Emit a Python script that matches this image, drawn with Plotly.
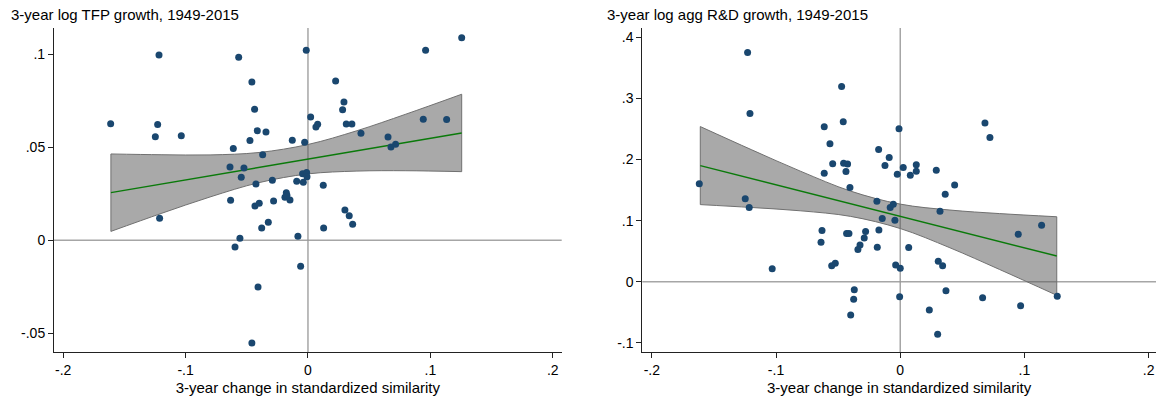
import plotly.graph_objects as go

# ---------------- data: left panel (TFP growth) ----------------
tfp_x = [-0.1612, -0.1217, -0.1228, -0.1247, -0.1035, -0.1212, -0.0566, -0.0458, -0.0436, -0.0414,
         -0.0343, -0.0474, -0.0128, -0.0610, -0.0370, -0.0637, -0.0523, -0.0545, -0.0425, -0.0291,
         -0.0092, -0.0038, -0.0014, 0.0226, 0.0294, 0.0283, 0.0022, 0.0079, 0.0065, 0.0313,
         0.0359, 0.0433, -0.0027, 0.0654, 0.0678, 0.0716, 0.0961, 0.1256, 0.0942, 0.1133,
         -0.0044, -0.0011, -0.0008, 0.0125, -0.0632, -0.0433, -0.0398, -0.0281, -0.0177, -0.0188,
         -0.0147, -0.0172, 0.0302, 0.0337, 0.0365, -0.0324, -0.0378, 0.0128, -0.0556, -0.0082,
         -0.0596, -0.0060, -0.0408, -0.0458]
tfp_y = [0.0627, 0.0996, 0.0622, 0.0557, 0.0562, 0.0118, 0.0984, 0.0851, 0.0704, 0.0589,
         0.0582, 0.0536, 0.0538, 0.0493, 0.0460, 0.0394, 0.0389, 0.0339, 0.0303, 0.0323,
         0.0317, 0.0312, 0.1021, 0.0856, 0.0744, 0.0702, 0.0663, 0.0624, 0.0609, 0.0625,
         0.0625, 0.0575, 0.0527, 0.0555, 0.0502, 0.0516, 0.1021, 0.1089, 0.0651, 0.0649,
         0.0358, 0.0364, 0.0342, 0.0296, 0.0215, 0.0184, 0.0199, 0.0211, 0.0256, 0.0231,
         0.0217, 0.0242, 0.0163, 0.0132, 0.0086, 0.0097, 0.0066, 0.0066, 0.0011, 0.0022,
         -0.0036, -0.0140, -0.0251, -0.0552]

tfp_band_x = [-0.161, -0.12, -0.08, -0.04, 0.0, 0.04, 0.08, 0.1256]
tfp_band_hi = [0.0464, 0.0460, 0.0459, 0.0472, 0.0515, 0.0589, 0.0678, 0.0785]
tfp_band_lo = [0.0048, 0.0144, 0.0233, 0.0310, 0.0357, 0.0372, 0.0374, 0.0369]
tfp_fit_x = [-0.161, 0.1256]
tfp_fit_y = [0.0256, 0.0577]

# ---------------- data: right panel (agg R&D growth) ----------------
rd_x = [-0.1229, -0.1210, -0.1618, -0.1248, -0.1216, -0.1031, -0.0472, -0.0459, -0.0612, -0.0566,
        -0.0544, -0.0456, -0.0424, -0.0612, -0.0437, -0.0405, -0.0174, -0.0010, -0.0089, -0.0123,
        0.0024, -0.0024, 0.0081, 0.0129, 0.0129, 0.0290, 0.0438, 0.0682, 0.0722, 0.0362,
        -0.0188, -0.0081, -0.0056, -0.0145, -0.0043, 0.0320, -0.0630, -0.0638, -0.0432, -0.0413,
        -0.0279, -0.0290, -0.0324, -0.0341, -0.0172, -0.0185, 0.0068, -0.0552, -0.0523, -0.0037,
        0.0000, 0.0306, 0.0341, -0.0370, -0.0375, -0.0399, -0.0005, 0.0368, 0.0234, 0.0301,
        0.0950, 0.1138, 0.0663, 0.0969, 0.1264]
rd_y = [0.3754, 0.2754, 0.1602, 0.1356, 0.1213, 0.0213, 0.3197, 0.2618, 0.2536, 0.2257,
        0.1930, 0.1940, 0.1925, 0.1777, 0.1803, 0.1541, 0.2164, 0.2503, 0.2033, 0.1902,
        0.1869, 0.1761, 0.1744, 0.1913, 0.1810, 0.1826, 0.1585, 0.2597, 0.2361, 0.1433,
        0.1318, 0.1213, 0.1269, 0.1033, 0.1007, 0.1154, 0.0836, 0.0646, 0.0787, 0.0787,
        0.0820, 0.0716, 0.0602, 0.0525, 0.0848, 0.0564, 0.0558, 0.0262, 0.0302, 0.0274,
        0.0220, 0.0334, 0.0262, -0.0131, -0.0289, -0.0546, -0.0246, -0.0148, -0.0464, -0.0862,
        0.0777, 0.0924, -0.0262, -0.0393, -0.0239]

rd_band_x = [-0.161, -0.12, -0.08, -0.04, 0.0, 0.04, 0.08, 0.126]
rd_band_hi = [0.2540, 0.2163, 0.1806, 0.1483, 0.1270, 0.1173, 0.1115, 0.1063]
rd_band_lo = [0.1262, 0.1215, 0.1160, 0.1069, 0.0870, 0.0555, 0.0199, -0.0223]
rd_fit_x = [-0.161, 0.126]
rd_fit_y = [0.1901, 0.0420]

# ---------------- tick labels / titles ----------------
x_ticks = [-0.2, -0.1, 0, 0.1, 0.2]
x_ticktext = ["-.2", "-.1", "0", ".1", ".2"]
tfp_yticks = [-0.05, 0, 0.05, 0.1]
tfp_yticktext = ["-.05", "0", ".05", ".1"]
rd_yticks = [-0.1, 0, 0.1, 0.2, 0.3, 0.4]
rd_yticktext = ["-.1", "0", ".1", ".2", ".3", ".4"]
title_left = "3-year log TFP growth, 1949-2015"
title_right = "3-year log agg R&D growth, 1949-2015"
x_title = "3-year change in standardized similarity"

MARKER = "#1a476f"
FIT = "#0a7a0a"
BAND_FILL = "rgba(90,90,90,0.52)"
BAND_EDGE = "#707070"
FONT = "Liberation Sans, Arial, Helvetica, sans-serif"

fig = go.Figure()


def add_panel(xa, ya, bx, bhi, blo, fx, fy, px, py):
    fig.add_trace(go.Scatter(x=bx, y=bhi, mode="lines", line=dict(color=BAND_EDGE, width=1, shape="spline"),
                             xaxis=xa, yaxis=ya, hoverinfo="skip", showlegend=False))
    fig.add_trace(go.Scatter(x=bx, y=blo, mode="lines", line=dict(color=BAND_EDGE, width=1, shape="spline"),
                             fill="tonexty", fillcolor=BAND_FILL,
                             xaxis=xa, yaxis=ya, hoverinfo="skip", showlegend=False))
    # vertical closing edges of the band
    fig.add_trace(go.Scatter(x=[bx[0], bx[0], None, bx[-1], bx[-1]],
                             y=[blo[0], bhi[0], None, blo[-1], bhi[-1]],
                             mode="lines", line=dict(color=BAND_EDGE, width=1),
                             xaxis=xa, yaxis=ya, hoverinfo="skip", showlegend=False))
    fig.add_trace(go.Scatter(x=fx, y=fy, mode="lines", line=dict(color=FIT, width=1.4),
                             xaxis=xa, yaxis=ya, showlegend=False))
    fig.add_trace(go.Scatter(x=px, y=py, mode="markers",
                             marker=dict(color=MARKER, size=7, line=dict(width=0)),
                             xaxis=xa, yaxis=ya, showlegend=False))


add_panel("x", "y", tfp_band_x, tfp_band_hi, tfp_band_lo, tfp_fit_x, tfp_fit_y, tfp_x, tfp_y)
add_panel("x2", "y2", rd_band_x, rd_band_hi, rd_band_lo, rd_fit_x, rd_fit_y, rd_x, rd_y)

axis_common = dict(showgrid=False, zeroline=False, showline=True, linecolor="#222222", linewidth=1,
                   ticks="outside", ticklen=5, tickcolor="#222222", tickwidth=1,
                   tickfont=dict(size=14, color="black", family=FONT))

ydom = [0.1148, 0.9296]
fig.update_layout(
    width=1156, height=398,
    margin=dict(l=0, r=0, t=0, b=0),
    paper_bgcolor="white", plot_bgcolor="white",
    font=dict(family=FONT, color="black"),
    xaxis=dict(domain=[0.0467, 0.4859], range=[-0.2075, 0.2073], anchor="y",
               tickvals=x_ticks, ticktext=x_ticktext,
               title=dict(text=x_title, font=dict(size=15), standoff=5), **axis_common),
    yaxis=dict(domain=ydom, range=[-0.0602, 0.1141], anchor="x",
               tickvals=tfp_yticks, ticktext=tfp_yticktext, **axis_common),
    xaxis2=dict(domain=[0.5556, 1.0], range=[-0.2077, 0.2059], anchor="y2",
                tickvals=x_ticks, ticktext=x_ticktext,
                title=dict(text=x_title, font=dict(size=15), standoff=5), **axis_common),
    yaxis2=dict(domain=ydom, range=[-0.1157, 0.4154], anchor="x2",
                tickvals=rd_yticks, ticktext=rd_yticktext, **axis_common),
)

ref = dict(color="rgba(150,150,150,0.85)", width=1.5)
for xr, yr in (("x", "y"), ("x2", "y2")):
    fig.add_shape(type="line", xref=xr, yref=yr + " domain", x0=0, x1=0, y0=0, y1=1, line=ref, layer="below")
    fig.add_shape(type="line", xref=xr + " domain", yref=yr, x0=0, x1=1, y0=0, y1=0, line=ref, layer="below")

fig.add_annotation(text=title_left, xref="paper", yref="paper", x=9 / 1156, y=1 - 14 / 398,
                   xanchor="left", yanchor="middle", showarrow=False, font=dict(size=15, color="black"))
fig.add_annotation(text=title_right, xref="paper", yref="paper", x=605 / 1156, y=1 - 14 / 398,
                   xanchor="left", yanchor="middle", showarrow=False, font=dict(size=15, color="black"))

fig.write_html("out.html")
